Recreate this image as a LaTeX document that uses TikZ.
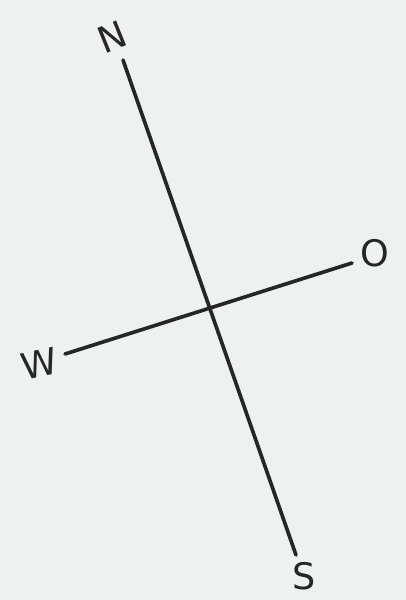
\documentclass[tikz,border=0pt]{standalone}
\usepackage{fontspec}
\setmainfont{DejaVu Sans}
\usepackage{xcolor}
\usetikzlibrary{positioning}
\definecolor{paper}{HTML}{EEF1F1}
\definecolor{ink}{HTML}{262626}
\tikzset{
  axis/.style={draw=ink, line width=2.6pt, line cap=round},
  dirlabel/.style={font=\fontsize{26}{28}\selectfont, text=ink, inner sep=0pt}
}
\begin{document}
\begin{tikzpicture}[x=0.025cm, y=-0.025cm]
\fill[paper] (0,0) rectangle (406,600);
\useasboundingbox (0,0) rectangle (406,600);

\coordinate (ntop) at (123,60);
\coordinate (sbot) at (296,555);
\coordinate (wend) at (65,354);
\coordinate (oend) at (352,263);

\node[dirlabel, rotate=22] (n) at (112,37) {N};
\node[dirlabel] (o) at (375,253) {O};
\node[dirlabel, rotate=12] (w) at (39,364) {W};
\node[dirlabel] (s) at (304,576) {S};

\draw[axis] (ntop) -- (sbot);
\draw[axis] (wend) -- (oend);
\end{tikzpicture}
\end{document}
